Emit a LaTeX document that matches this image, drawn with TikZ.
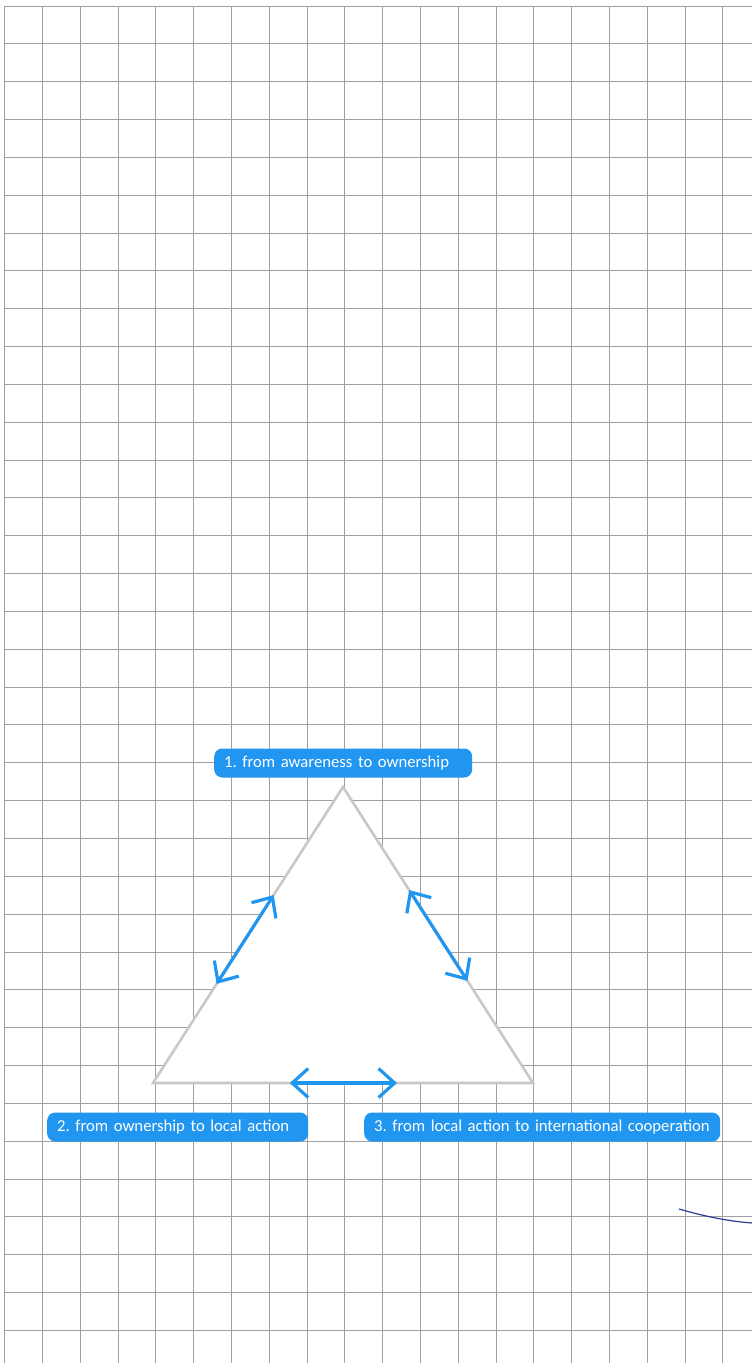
\documentclass[tikz,border=0pt]{standalone}
\usepackage{fontspec}
\setmainfont{Carlito}
\usetikzlibrary{arrows.meta,calc}
\definecolor{gridgray}{HTML}{A0A0A0}
\definecolor{trigray}{HTML}{C8C8C8}
\definecolor{labelblue}{HTML}{2196F0}
\definecolor{inkblue}{HTML}{2C3C96}
\tikzset{
  gridline/.style={draw=gridgray, line width=1pt},
  triline/.style={draw=trigray, line width=2.6pt, fill=white, line join=miter},
  twoway/.style={draw=labelblue, line width=3.2pt, {Straight Barb[length=16pt,width=29pt,line width=3.2pt]}-{Straight Barb[length=16pt,width=29pt,line width=3.2pt]}},
  stagebox/.style={fill=labelblue, text=white, rounded corners=8pt, minimum height=29pt, inner ysep=0pt, inner xsep=10pt, align=left, anchor=west, font=\fontsize{16.7}{19}\selectfont\frenchspacing},
  inkline/.style={draw=inkblue, line width=1.2pt}
}
\begin{document}
\begin{tikzpicture}[x=1pt,y=-1pt]
\useasboundingbox (0,0) rectangle (752,1363);
\fill[white] (0,0) rectangle (752,1363);
% grid
\foreach \k in {0,...,19} { \draw[gridline] ({4.7+37.8*\k},6) -- ({4.7+37.8*\k},1363); }
\foreach \k in {0,...,35} { \draw[gridline] (4.7,{6+37.84*\k}) -- (752,{6+37.84*\k}); }
% triangle
\coordinate (apex) at (343,787);
\coordinate (bl) at (153,1083);
\coordinate (br) at (533,1083);
\draw[triline] (apex) -- (bl) -- (br) -- cycle;
% arrows along sides
\coordinate (l1) at ($(apex)!0.365!(bl)$);
\coordinate (l2) at ($(apex)!0.665!(bl)$);
\coordinate (r1) at ($(apex)!0.348!(br)$);
\coordinate (r2) at ($(apex)!0.655!(br)$);
\coordinate (b1) at ($(bl)!0.36!(br)$);
\coordinate (b2) at ($(bl)!0.642!(br)$);
\draw[twoway] (l2) -- (l1);
\draw[twoway] (r1) -- (r2);
\draw[twoway] (b1) -- (b2);
% labels
\node[stagebox, text width=238pt] (s1) at (214,763) {1. from awareness to ownership};
\node[stagebox, text width=241pt] (s2) at (47,1127) {2. from ownership to local action};
\node[stagebox, text width=336pt] (s3) at (364,1127) {3. from local action to international cooperation};
% stray stroke
\coordinate (c1) at (679,1209);
\coordinate (c2) at (752,1223);
\draw[inkline] (c1) .. controls (700,1215) and (725,1221) .. (c2);
\end{tikzpicture}
\end{document}
